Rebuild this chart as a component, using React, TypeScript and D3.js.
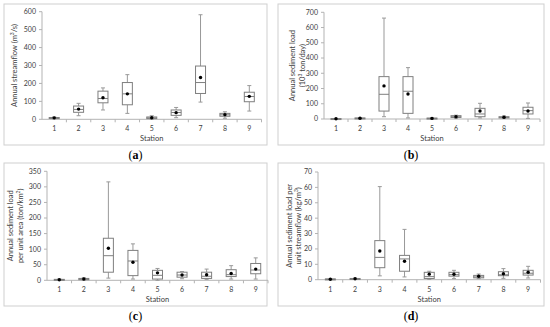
import React from "react";
import * as d3 from "d3";

// Station categories shared by every panel
const stations = ["1", "2", "3", "4", "5", "6", "7", "8", "9"];

// (a) Annual streamflow (m3/s)
const flowMin = [2, 20, 52, 33, 0, 9, 96, 6, 46];
const flowQ1 = [5, 39, 92, 81, 4, 22, 144, 17, 98];
const flowMedian = [8, 55, 116, 142, 8, 38, 205, 25, 127];
const flowQ3 = [10, 74, 157, 205, 13, 52, 297, 33, 151];
const flowMax = [13, 89, 175, 249, 20, 66, 583, 42, 188];
const flowMean = [8, 57, 120, 142, 9, 37, 233, 26, 128];

// (b) Annual sediment load (10^3 ton/day)
const loadMin = [0, 0, 15, 7, 0, 5, 7, 3, 4];
const loadQ1 = [1, 2, 52, 37, 2, 10, 15, 7, 33];
const loadMedian = [2, 4, 162, 182, 4, 15, 33, 11, 55];
const loadQ3 = [3, 7, 278, 278, 6, 22, 70, 15, 77];
const loadMax = [4, 9, 662, 337, 8, 25, 103, 20, 105];
const loadMean = [2, 5, 217, 164, 4, 15, 52, 11, 52];

// (c) Annual sediment load per unit area (ton/km2)
const areaMin = [0, 0, 7, 4, 0, 5, 3, 4, 4];
const areaQ1 = [1, 2, 26, 15, 4, 10, 6, 12, 21];
const areaMedian = [2, 4, 79, 62, 16, 17, 13, 18, 33];
const areaQ3 = [3, 6, 135, 96, 32, 26, 26, 34, 54];
const areaMax = [4, 8, 316, 117, 38, 28, 36, 47, 72];
const areaMean = [2, 4, 103, 58, 24, 17, 18, 22, 36];

// (d) Annual sediment load per unit streamflow (kg/m3)
const concMin = [0.1, 0.2, 2.5, 1.8, 0.2, 0.7, 0.7, 0.9, 1.1];
const concQ1 = [0.2, 0.4, 7.8, 5.5, 0.8, 2.3, 1.2, 2.6, 3.0];
const concMedian = [0.3, 0.6, 14.5, 13.5, 2.0, 3.3, 1.8, 3.2, 4.2];
const concQ3 = [0.5, 0.8, 25.4, 15.8, 4.8, 4.8, 2.8, 5.2, 6.1];
const concMax = [0.6, 1.0, 60.5, 32.7, 5.5, 6.1, 3.7, 7.2, 8.7];
const concMean = [0.3, 0.6, 18.7, 12.0, 3.6, 3.5, 2.2, 3.9, 4.8];

const font = "Lato, 'Open Sans', sans-serif";
const textColor = "#404040";
const boxColor = "#7f7f7f";
const axisColor = "#b3b3b3";

type PanelProps = {
  frame: [number, number, number, number]; // x, y, w, h of border
  xRange: [number, number];
  yRange: [number, number];
  yMax: number;
  yStep: number;
  titleLines: string[][];
  titleX: number[];
  label: string;
  min: number[];
  q1: number[];
  median: number[];
  q3: number[];
  max: number[];
  mean: number[];
};

const Panel = (p: PanelProps) => {
  const x = d3.scaleBand().domain(stations).range(p.xRange);
  const y = d3.scaleLinear().domain([0, p.yMax]).range(p.yRange);
  const ticks = d3.range(0, p.yMax + p.yStep / 2, p.yStep);
  const bw = 10;
  const cap = 2;
  const [fx, fy, fw, fh] = p.frame;
  const midY = (p.yRange[0] + p.yRange[1]) / 2;
  const axisY = p.yRange[0];

  return (
    <g>
      <rect x={fx} y={fy} width={fw} height={fh} fill="white" stroke="#cfcfcf" strokeWidth={1} />

      {/* y axis */}
      <line x1={p.xRange[0]} x2={p.xRange[0]} y1={p.yRange[0]} y2={p.yRange[1]} stroke={axisColor} />
      {ticks.map((t) => (
        <g key={t}>
          <line x1={p.xRange[0] - 3} x2={p.xRange[0]} y1={y(t)} y2={y(t)} stroke={axisColor} />
          <text x={p.xRange[0] - 6} y={y(t)} dy="0.35em" textAnchor="end" fontSize={7} fill={textColor} fontFamily={font}>
            {t}
          </text>
        </g>
      ))}

      {/* x axis */}
      <line x1={p.xRange[0]} x2={p.xRange[1]} y1={axisY} y2={axisY} stroke={axisColor} />
      {stations.map((s) => (
        <g key={s}>
          <line x1={x(s)! + x.bandwidth()} x2={x(s)! + x.bandwidth()} y1={axisY} y2={axisY + 3} stroke={axisColor} />
          <text x={x(s)! + x.bandwidth() / 2} y={axisY + 12} textAnchor="middle" fontSize={7} fill={textColor} fontFamily={font}>
            {s}
          </text>
        </g>
      ))}
      <text x={(p.xRange[0] + p.xRange[1]) / 2} y={axisY + 22} textAnchor="middle" fontSize={7.5} fill={textColor} fontFamily={font}>
        Station
      </text>

      {/* y title */}
      {p.titleLines.map((parts, i) => (
        <text
          key={i}
          transform={`translate(${p.titleX[i]},${midY}) rotate(-90)`}
          textAnchor="middle"
          fontSize={7.5}
          fill={textColor}
          fontFamily={font}
        >
          {parts.map((part, j) =>
            part.startsWith("^") ? (
              <tspan key={j} fontSize={5} dy={-3}>
                {part.slice(1)}
              </tspan>
            ) : (
              <tspan key={j} dy={j > 0 && parts[j - 1].startsWith("^") ? 3 : 0}>
                {part}
              </tspan>
            )
          )}
        </text>
      ))}

      {/* boxes */}
      {stations.map((s, i) => {
        const cx = x(s)! + x.bandwidth() / 2;
        return (
          <g key={s}>
            <line x1={cx} x2={cx} y1={y(p.max[i])} y2={y(p.q3[i])} stroke="#999" />
            <line x1={cx} x2={cx} y1={y(p.q1[i])} y2={y(p.min[i])} stroke="#999" />
            <line x1={cx - cap} x2={cx + cap} y1={y(p.max[i])} y2={y(p.max[i])} stroke="#999" />
            <line x1={cx - cap} x2={cx + cap} y1={y(p.min[i])} y2={y(p.min[i])} stroke="#999" />
            <rect
              x={cx - bw / 2}
              y={y(p.q3[i])}
              width={bw}
              height={Math.max(1, y(p.q1[i]) - y(p.q3[i]))}
              fill="white"
              stroke={boxColor}
              strokeWidth={1}
            />
            <line x1={cx - bw / 2} x2={cx + bw / 2} y1={y(p.median[i])} y2={y(p.median[i])} stroke={boxColor} />
            <circle cx={cx} cy={y(p.mean[i])} r={1.7} fill="black" />
          </g>
        );
      })}

      {/* panel label */}
      <text
        x={fx + fw / 2}
        y={fy + fh + 14}
        textAnchor="middle"
        fontSize={12}
        fill="black"
        fontFamily="'Liberation Serif', 'DejaVu Serif', serif"
      >
        (<tspan fontWeight="bold">{p.label}</tspan>)
      </text>
    </g>
  );
};

const App = () => {
  return (
    <svg width={550} height={327} style={{ position: "absolute", left: 0, top: 0, background: "white" }}>
      <Panel
        frame={[4, 4, 263, 141]}
        xRange={[42, 261.5]}
        yRange={[119.3, 11.7]}
        yMax={600}
        yStep={100}
        titleLines={[["Annual streamflow (m", "^3", "/s)"]]}
        titleX={[17]}
        label="a"
        min={flowMin}
        q1={flowQ1}
        median={flowMedian}
        q3={flowQ3}
        max={flowMax}
        mean={flowMean}
      />
      <Panel
        frame={[278, 4, 266, 141]}
        xRange={[324, 540]}
        yRange={[119, 12.3]}
        yMax={700}
        yStep={100}
        titleLines={[["Annual sediment load"], ["(10", "^3", " ton/day)"]]}
        titleX={[295, 305]}
        label="b"
        min={loadMin}
        q1={loadQ1}
        median={loadMedian}
        q3={loadQ3}
        max={loadMax}
        mean={loadMean}
      />
      <Panel
        frame={[4, 163, 263, 143]}
        xRange={[47, 268]}
        yRange={[280.3, 171.3]}
        yMax={350}
        yStep={50}
        titleLines={[["Annual sediment load"], ["per unit area (ton/km", "^2", ")"]]}
        titleX={[13, 23]}
        label="c"
        min={areaMin}
        q1={areaQ1}
        median={areaMedian}
        q3={areaQ3}
        max={areaMax}
        mean={areaMean}
      />
      <Panel
        frame={[278, 163, 266, 143]}
        xRange={[318, 540.5]}
        yRange={[279.7, 172]}
        yMax={70}
        yStep={10}
        titleLines={[["Annual sediment load per"], ["unit streamflow (kg/m", "^3", ")"]]}
        titleX={[292, 301]}
        label="d"
        min={concMin}
        q1={concQ1}
        median={concMedian}
        q3={concQ3}
        max={concMax}
        mean={concMean}
      />
    </svg>
  );
};

export default App;
